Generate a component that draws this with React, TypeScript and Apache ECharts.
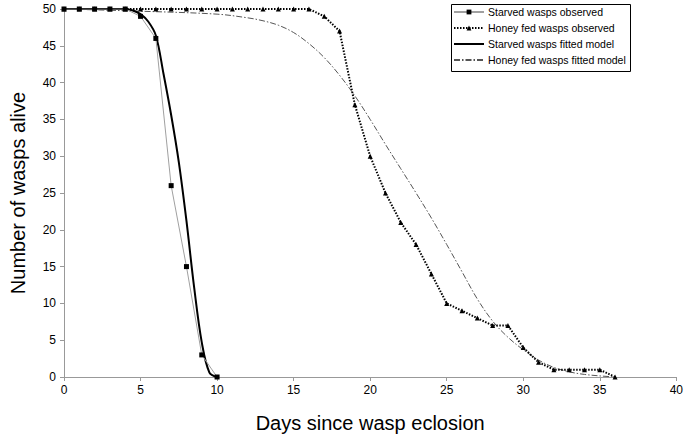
import React, { useEffect, useRef } from "react";
import * as echarts from "echarts";

const starvedDays = [0, 1, 2, 3, 4, 5, 6, 7, 8, 9, 10];
const starvedObserved = [50, 50, 50, 50, 50, 49, 46, 26, 15, 3, 0];

const honeyDays = [
  0, 1, 2, 3, 4, 5, 6, 7, 8, 9, 10, 11, 12, 13, 14, 15, 16, 17, 18, 19, 20,
  21, 22, 23, 24, 25, 26, 27, 28, 29, 30, 31, 32, 33, 34, 35, 36,
];
const honeyObserved = [
  50, 50, 50, 50, 50, 50, 50, 50, 50, 50, 50, 50, 50, 50, 50, 50, 50, 49, 47,
  37, 30, 25, 21, 18, 14, 10, 9, 8, 7, 7, 4, 2, 1, 1, 1, 1, 0,
];

const starvedFitDays = [0, 1, 2, 3, 4, 4.5, 5, 5.5, 6, 6.5, 7, 7.5, 8, 8.5, 9, 9.5, 10];
const starvedFitted = [50, 50, 50, 50, 50, 49.8, 49.3, 48.3, 46.4, 41.2, 35.6, 29.2, 21.2, 12.2, 4.7, 0.6, 0];

const honeyFitDays = [
  0, 5, 10, 12, 13, 14, 15, 16, 17, 18, 19, 20, 21, 22, 23, 24, 25, 26, 27,
  28, 29, 30, 31, 32, 33, 34, 35, 36,
];
const honeyFitted = [
  50, 49.7, 49.3, 48.8, 48.4, 47.8, 46.8, 45.3, 43.4, 41, 38.2, 35, 31.6,
  28.3, 25, 21.6, 18, 14.3, 10.6, 7.6, 5.4, 3.7, 2.3, 1.3, 0.7, 0.35, 0.15, 0,
];

const legendNames = [
  "Starved wasps observed",
  "Honey fed wasps observed",
  "Starved wasps fitted model",
  "Honey fed wasps fitted model",
];

const xTicks = { min: 0, max: 40, interval: 5 };
const yTicks = { min: 0, max: 50, interval: 5 };

const zip = (xs: number[], ys: number[]) => xs.map((x, i) => [x, ys[i]]);

const FONT = "Liberation Sans, Arial, sans-serif";

export default function App() {
  const ref = useRef<HTMLDivElement>(null);
  useEffect(() => {
    if (!ref.current) return;
    const chart = echarts.init(ref.current, null, { renderer: "svg" });
    const axisCommon = {
      axisLine: { show: true, lineStyle: { color: "#999", width: 1 } },
      axisTick: { show: true, length: 4, lineStyle: { color: "#999" } },
      splitLine: { show: false },
      axisLabel: { color: "#000", fontSize: 12, fontFamily: FONT },
      nameTextStyle: { color: "#000", fontSize: 20, fontFamily: FONT },
      nameLocation: "middle" as const,
    };
    chart.setOption({
      animation: false,
      backgroundColor: "#fff",
      textStyle: { fontFamily: FONT },
      grid: { left: 61, right: 8, top: 9, bottom: 62, containLabel: false },
      xAxis: {
        type: "value",
        ...xTicks,
        name: "Days since wasp eclosion",
        nameGap: 36,
        ...axisCommon,
        axisLabel: { ...axisCommon.axisLabel, margin: 7 },
      },
      yAxis: {
        type: "value",
        ...yTicks,
        name: "Number of wasps alive",
        nameGap: 36,
        ...axisCommon,
        axisLabel: { ...axisCommon.axisLabel, margin: 8 },
      },
      graphic: [
        {
          type: "rect",
          left: 451,
          top: 4,
          shape: { width: 179, height: 67 },
          style: { fill: "#fff", stroke: "#000", lineWidth: 1 },
          z: 90,
        },
      ],
      legend: {
        orient: "vertical",
        left: 451,
        top: 4,
        padding: [2, 2, 2, 2],
        itemGap: 4,
        itemWidth: 30,
        itemHeight: 6,
        z: 100,
        textStyle: { fontSize: 10.5, color: "#000", fontFamily: FONT, padding: [0, 0, 0, -1], lineHeight: 12 },
        data: [
          { name: legendNames[0] },
          { name: legendNames[1] },
          { name: legendNames[2], itemStyle: { opacity: 0 } },
          { name: legendNames[3], itemStyle: { opacity: 0 } },
        ],
      },
      series: [
        {
          name: legendNames[3],
          type: "line",
          data: zip(honeyFitDays, honeyFitted),
          smooth: 0.35,
          symbol: "none",
          lineStyle: { color: "#555", width: 1, type: [6, 2, 1.5, 2] },
          itemStyle: { color: "#555" },
          z: 1,
        },
        {
          name: legendNames[2],
          type: "line",
          data: zip(starvedFitDays, starvedFitted),
          smooth: 0.35,
          symbol: "none",
          lineStyle: { color: "#000", width: 2 },
          itemStyle: { color: "#000" },
          z: 2,
        },
        {
          name: legendNames[1],
          type: "line",
          data: zip(honeyDays, honeyObserved),
          symbol: "triangle",
          symbolSize: 5,
          lineStyle: { color: "#000", width: 2, type: [1.5, 1.5] },
          itemStyle: { color: "#000" },
          z: 3,
        },
        {
          name: legendNames[0],
          type: "line",
          data: zip(starvedDays, starvedObserved),
          symbol: "rect",
          symbolSize: 5,
          lineStyle: { color: "#a0a0a0", width: 1 },
          itemStyle: { color: "#000" },
          z: 4,
        },
      ],
    });
    return () => chart.dispose();
  }, []);
  return <div ref={ref} style={{ width: 686, height: 439, position: "absolute", left: 0, top: 0 }} />;
}
